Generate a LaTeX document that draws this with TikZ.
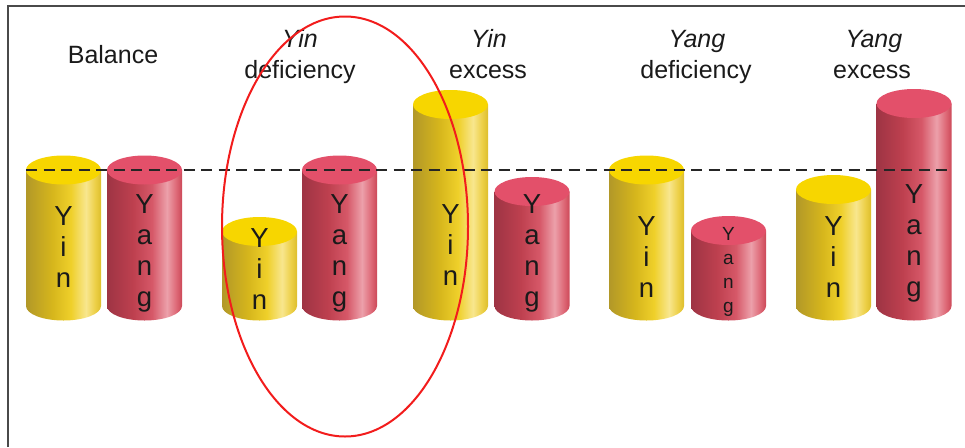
\documentclass[tikz,border=0pt]{standalone}
\usepackage{fontspec}
\setmainfont{Liberation Sans}
\definecolor{yA}{HTML}{B29828}
\definecolor{yB}{HTML}{D6B61C}
\definecolor{yC}{HTML}{EFD02A}
\definecolor{yD}{HTML}{F8E68E}
\definecolor{yE}{HTML}{EDD048}
\definecolor{yF}{HTML}{DDBE2C}
\definecolor{rA}{HTML}{9E3444}
\definecolor{rB}{HTML}{BE404F}
\definecolor{rC}{HTML}{D65868}
\definecolor{rD}{HTML}{ECA0AA}
\definecolor{rE}{HTML}{DE6A78}
\definecolor{rF}{HTML}{CC4858}
\definecolor{yTop}{HTML}{F7D600}
\definecolor{rTop}{HTML}{E3506A}
\definecolor{ink}{HTML}{1A1A1A}
\definecolor{dashink}{HTML}{252525}
\definecolor{framegray}{HTML}{4A4A4A}
\definecolor{ringred}{HTML}{F21C1C}
\pgfdeclarehorizontalshading{yinbody}{100bp}{color(0bp)=(yA); color(25bp)=(yA); color(42.5bp)=(yB); color(55bp)=(yC); color(65bp)=(yD); color(71bp)=(yE); color(75bp)=(yF); color(100bp)=(yF)}
\pgfdeclarehorizontalshading{yangbody}{100bp}{color(0bp)=(rA); color(25bp)=(rA); color(42.5bp)=(rB); color(55bp)=(rC); color(65bp)=(rD); color(71bp)=(rE); color(75bp)=(rF); color(100bp)=(rF)}
\newcommand\cyl[4]{%
  \shade[shading=#3] (#1-37.5,#2) -- (#1-37.5,306) arc[start angle=180,end angle=0,x radius=37.5,y radius=14.5] -- (#1+37.5,#2) -- cycle;
  \fill[#4] (#1,#2) ellipse[x radius=37.5,y radius=14.5];
}
\newcommand\vstack[1]{\begin{tabular}[t]{@{}c@{}}#1\end{tabular}}
\tikzset{
  head/.style={font=\fontsize{25}{30}\selectfont, text=ink, inner sep=0pt, anchor=base},
  letters/.style={font=\fontsize{27.5}{31}\selectfont, text=ink, inner sep=0pt, anchor=base},
  smallletters/.style={font=\fontsize{19}{24}\selectfont, text=ink, inner sep=0pt, anchor=base},
  levelline/.style={draw=dashink, line width=2.3pt, dash pattern=on 11pt off 6.5pt},
  ring/.style={draw=ringred, line width=2pt},
  frameline/.style={draw=framegray, line width=1.3pt}
}
\begin{document}
\begin{tikzpicture}[x=1pt,y=1pt,yscale=-1]
\useasboundingbox (0,0) rectangle (965,447);
% frame
\coordinate (fa) at (8,447);
\coordinate (fb) at (8,6);
\coordinate (fc) at (965,6);
\draw[frameline] (fa) -- (fb) -- (fc);
% cylinders
\cyl{63.5}{170}{yinbody}{yTop}
\cyl{144.5}{170}{yangbody}{rTop}
\cyl{259.5}{231.5}{yinbody}{yTop}
\cyl{339.5}{170}{yangbody}{rTop}
\cyl{450.5}{104.5}{yinbody}{yTop}
\cyl{532}{191.5}{yangbody}{rTop}
\cyl{646.5}{170}{yinbody}{yTop}
\cyl{728.5}{230.5}{yangbody}{rTop}
\cyl{833.5}{189.5}{yinbody}{yTop}
\cyl{914}{103.5}{yangbody}{rTop}
% dashed level
\coordinate (dl) at (26,170);
\coordinate (dr) at (952,170);
\draw[levelline] (dl) -- (dr);
% cylinder labels
\node[letters] (t1) at (63.5,225) {\vstack{Y\\i\\n}};
\node[letters] (t2) at (144.5,213) {\vstack{Y\\a\\n\\g}};
\node[letters] (t3) at (259.5,247) {\vstack{Y\\i\\n}};
\node[letters] (t4) at (339.5,213) {\vstack{Y\\a\\n\\g}};
\node[letters] (t5) at (450.5,223) {\vstack{Y\\i\\n}};
\node[letters] (t6) at (532,213) {\vstack{Y\\a\\n\\g}};
\node[letters] (t7) at (646.5,235) {\vstack{Y\\i\\n}};
\node[smallletters] (t8) at (728.5,240) {\vstack{Y\\a\\n\\g}};
\node[letters] (t9) at (833.5,235) {\vstack{Y\\i\\n}};
\node[letters] (t10) at (914,203) {\vstack{Y\\a\\n\\g}};
% headings
\node[head] (h1) at (113,63) {Balance};
\node[head] (h2a) at (300,47) {\itshape Yin};
\node[head] (h2b) at (300,78) {deficiency};
\node[head] (h3a) at (489,47) {\itshape Yin};
\node[head] (h3b) at (488,78) {excess};
\node[head] (h4a) at (697,47) {\itshape Yang};
\node[head] (h4b) at (696,78) {deficiency};
\node[head] (h5a) at (874,47) {\itshape Yang};
\node[head] (h5b) at (872,78) {excess};
% red ring
\draw[ring] (345,226.5) ellipse[x radius=123, y radius=210];
\end{tikzpicture}
\end{document}
